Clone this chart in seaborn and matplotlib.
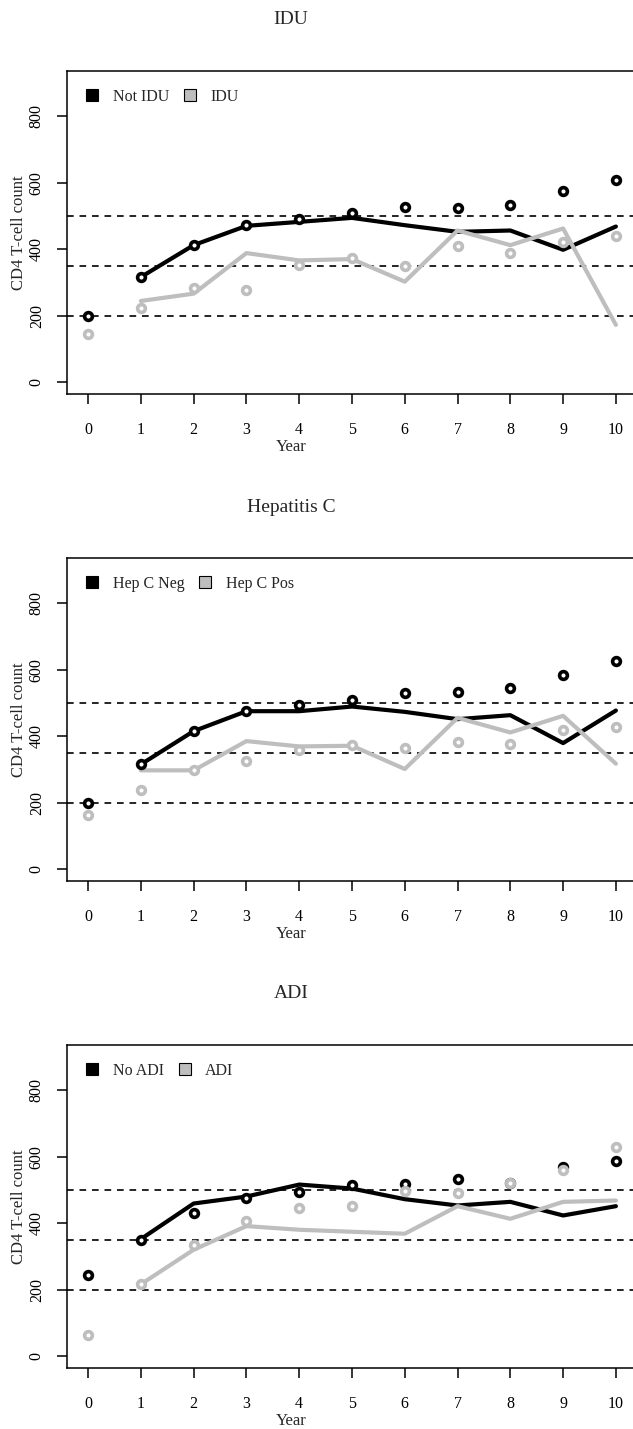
import numpy as np
import pandas as pd
import matplotlib
matplotlib.use("Agg")
import matplotlib.pyplot as plt
from matplotlib.lines import Line2D
import seaborn as sns

# data
years = np.arange(0, 11)
line_years = np.arange(1, 11)

titles = ["IDU", "Hepatitis C", "ADI"]
legend_labels = [("Not IDU", "IDU"), ("Hep C Neg", "Hep C Pos"), ("No ADI", "ADI")]

# IDU panel
idu_neg_pts = [200, 316, 412, 474, 490, 508, 526, 524, 532, 576, 608]
idu_neg_line = [316, 412, 470, 482, 494, 472, 452, 456, 398, 468]
idu_pos_pts = [144, 223, 282, 278, 352, 372, 348, 410, 388, 420, 438]
idu_pos_line = [244, 266, 388, 366, 370, 302, 456, 412, 462, 172]

# Hepatitis C panel
hcv_neg_pts = [198, 315, 415, 477, 495, 510, 529, 533, 545, 583, 625]
hcv_neg_line = [315, 415, 475, 475, 489, 473, 451, 463, 379, 477]
hcv_pos_pts = [163, 237, 299, 325, 357, 373, 363, 383, 376, 418, 428]
hcv_pos_line = [297, 297, 385, 369, 371, 301, 455, 411, 461, 317]

# ADI panel
adi_neg_pts = [245, 348, 431, 475, 494, 514, 519, 534, 520, 569, 587]
adi_neg_line = [352, 459, 480, 516, 504, 472, 453, 464, 423, 451]
adi_pos_pts = [64, 218, 334, 406, 445, 453, 496, 490, 522, 559, 630]
adi_pos_line = [216, 320, 391, 380, 374, 368, 451, 413, 464, 468]

panels = [
    (idu_neg_pts, idu_neg_line, idu_pos_pts, idu_pos_line),
    (hcv_neg_pts, hcv_neg_line, hcv_pos_pts, hcv_pos_line),
    (adi_neg_pts, adi_neg_line, adi_pos_pts, adi_pos_line),
]

ref_lines = [200, 350, 500]
ytick_vals = [0, 200, 400, 600, 800]

black = "#000000"
grey = "#BEBEBE"

sns.set_style("ticks")
plt.rcParams["font.family"] = ["Liberation Serif", "DejaVu Serif"]

W, H = 633, 1429
fig = plt.figure(figsize=(W / 100, H / 100), dpi=100)

tops = [71, 558, 1045]
ax_h = 323
left, right = 67, 637

for k, (neg_pts, neg_line, pos_pts, pos_line) in enumerate(panels):
    top = tops[k]
    ax = fig.add_axes([left / W, 1 - (top + ax_h) / H, (right - left) / W, ax_h / H])

    for r in ref_lines:
        ax.axhline(r, color="black", lw=1.2, ls=(0, (4, 3.5)), zorder=1)

    sns.lineplot(x=line_years, y=neg_line, color=black, lw=3, ax=ax, zorder=2)
    sns.lineplot(x=line_years, y=pos_line, color=grey, lw=3, ax=ax, zorder=2)
    ax.plot(years, neg_pts, "o", ms=5.6, mew=2.6, mfc="white", mec=black, zorder=3)
    ax.plot(years, pos_pts, "o", ms=5.6, mew=2.6, mfc="white", mec=grey, zorder=4)

    ax.set_xlim(-0.4, 10.4)
    ax.set_ylim(-36, 936)
    ax.set_xticks(years)
    ax.set_xticklabels([str(y) for y in years])
    ax.set_yticks(ytick_vals)
    ax.set_yticklabels([str(v) for v in ytick_vals])
    ax.tick_params(axis="both", direction="out", length=7, width=1.1,
                   labelsize=11.5, colors="black")
    ax.tick_params(axis="x", pad=13)
    ax.tick_params(axis="y", pad=9, labelrotation=90)
    for lab in ax.get_yticklabels():
        lab.set_va("center")
    for s in ax.spines.values():
        s.set_visible(True)
        s.set_linewidth(1.1)
        s.set_color("black")
    ax.set_xlabel("")
    ax.set_ylabel("")

    ax.text((19 - left) / (right - left), 0.5, "CD4 T-cell count", rotation=90,
            transform=ax.transAxes, ha="center", va="center", fontsize=12)
    ax.text((291 - left) / (right - left), -53 / ax_h, "Year",
            transform=ax.transAxes, ha="center", va="center", fontsize=12)
    fig.text(291 / W, 1 - (top - 51) / H, titles[k], ha="center", va="center",
             fontsize=14)

    handles = [
        Line2D([], [], marker="s", ls="none", ms=8.5, mfc=black, mec="black", mew=0.8),
        Line2D([], [], marker="s", ls="none", ms=8.5, mfc=grey, mec="black", mew=0.8),
    ]
    ax.legend(handles, list(legend_labels[k]), loc="upper left",
              bbox_to_anchor=(17 / (right - left), 1 - 18 / ax_h), ncol=2,
              frameon=False, fontsize=11.5, handlelength=1.0, handletextpad=0.8,
              columnspacing=0.8, borderpad=0, borderaxespad=0)

fig.savefig("out.png", dpi=100)
